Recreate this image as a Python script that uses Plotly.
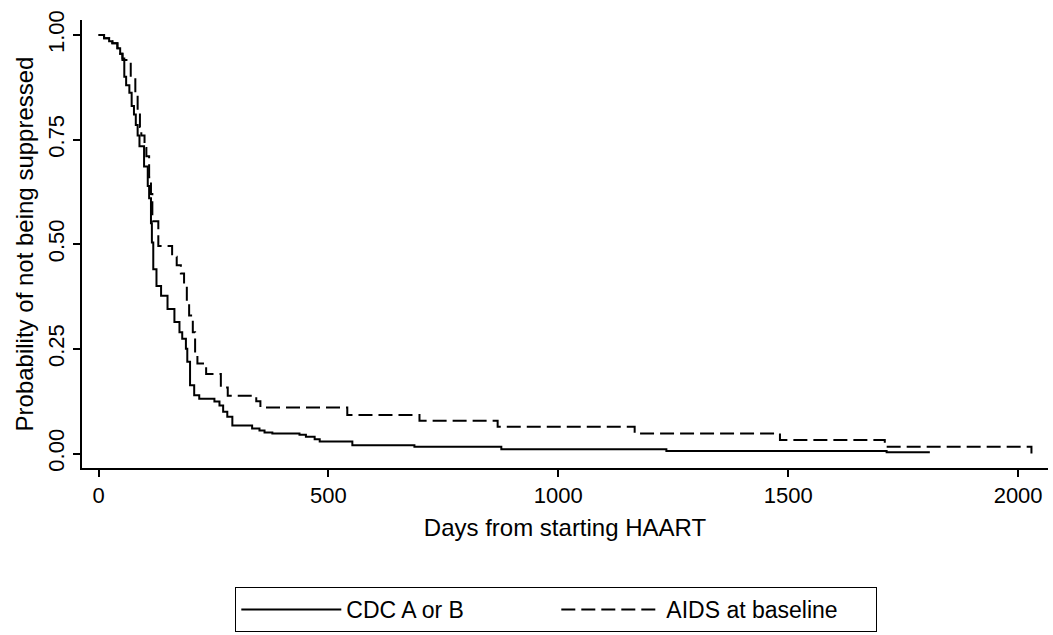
import plotly.graph_objects as go

# Kaplan-Meier style step data
cdc_days = [0, 12, 23, 30, 41, 47, 52, 56, 60, 67, 72, 77, 81, 85, 89, 99, 107, 110,
            114, 116, 119, 126, 136, 150, 165, 176, 182, 190, 193, 199, 208, 219,
            252, 263, 271, 280, 291, 334, 350, 361, 378, 437, 451, 470, 481, 552,
            687, 876, 1235, 1714, 1808]
cdc_prob = [1.0, 0.992, 0.985, 0.980, 0.968, 0.955, 0.944, 0.90, 0.88, 0.862, 0.83,
            0.81, 0.785, 0.76, 0.734, 0.686, 0.639, 0.61, 0.55, 0.504, 0.44, 0.40,
            0.377, 0.345, 0.314, 0.29, 0.274, 0.25, 0.219, 0.163, 0.139, 0.131,
            0.124, 0.115, 0.10, 0.088, 0.067, 0.06, 0.055, 0.05, 0.048, 0.045,
            0.04, 0.034, 0.029, 0.02, 0.016, 0.010, 0.006, 0.003, 0.003]

aids_days = [0, 12, 23, 30, 41, 47, 52, 70, 80, 85, 90, 93, 100, 104, 110, 114, 117,
             130, 160, 170, 179, 186, 192, 197, 205, 210, 215, 234, 266, 281, 343,
             352, 541, 698, 868, 1166, 1482, 1710, 2029]
aids_prob = [1.0, 0.992, 0.985, 0.980, 0.968, 0.955, 0.94, 0.90, 0.86, 0.82, 0.78,
             0.76, 0.73, 0.71, 0.66, 0.62, 0.555, 0.496, 0.47, 0.45, 0.43, 0.40,
             0.36, 0.33, 0.29, 0.24, 0.215, 0.19, 0.158, 0.138, 0.125, 0.110,
             0.092, 0.078, 0.064, 0.048, 0.032, 0.016, 0.0]

x_ticks = [0, 500, 1000, 1500, 2000]
y_ticks = [0.0, 0.25, 0.50, 0.75, 1.00]
y_tick_text = ["0.00", "0.25", "0.50", "0.75", "1.00"]

FONT = "Liberation Sans, Arial, sans-serif"

fig = go.Figure()
fig.add_trace(go.Scatter(x=cdc_days, y=cdc_prob, mode="lines", name="CDC A or B",
                         line=dict(color="black", width=2, shape="hv")))
fig.add_trace(go.Scatter(x=aids_days, y=aids_prob, mode="lines", name="AIDS at baseline",
                         line=dict(color="black", width=2, shape="hv", dash="14px,6px")))

fig.update_layout(
    width=1053, height=635,
    margin=dict(l=82, r=5, t=20, b=166),
    paper_bgcolor="white", plot_bgcolor="white",
    font=dict(family=FONT, color="black", size=22),
    xaxis=dict(range=[-36, 2065], tickvals=x_ticks, ticks="outside", ticklen=7,
               tickwidth=1.5, tickcolor="black", showline=True, linecolor="black",
               linewidth=1.5, showgrid=False, zeroline=False,
               tickfont=dict(size=22),
               title=dict(text="Days from starting HAART", font=dict(size=24), standoff=12)),
    yaxis=dict(range=[-0.0346, 1.0357], tickvals=y_ticks, ticktext=y_tick_text,
               ticks="outside", ticklen=7, tickwidth=1.5, tickcolor="black",
               showline=True, linecolor="black", linewidth=1.5, showgrid=False,
               zeroline=False, tickangle=-90, tickfont=dict(size=22),
               title=dict(text="Probability of not being suppressed", font=dict(size=24),
                          standoff=4)),
    legend=dict(orientation="h", x=0.491, xanchor="center", y=-0.363, yanchor="bottom",
                bordercolor="black", borderwidth=1, bgcolor="white",
                font=dict(size=23), itemwidth=100, entrywidth=205),
    showlegend=True,
)

fig.write_html("out.html")
